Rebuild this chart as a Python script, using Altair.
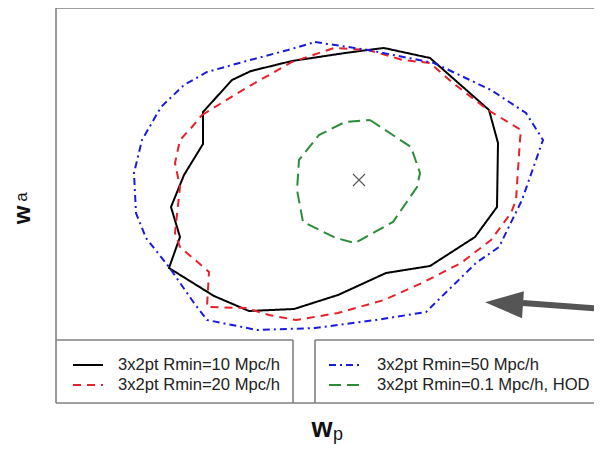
import altair as alt
import pandas as pd

# ---------------- data ----------------
labels = ["3x2pt Rmin=10 Mpc/h", "3x2pt Rmin=20 Mpc/h",
          "3x2pt Rmin=50 Mpc/h", "3x2pt Rmin=0.1 Mpc/h, HOD"]

black_wp = [0.25, 0.71, 1.30, 1.39, 1.38, 1.16, 0.71, 0.27, -0.21, -0.65, -1.10, -1.45,
            -1.90, -1.79, -1.88, -1.75, -1.56, -1.56, -1.27, -1.08, -0.67, -0.14, 0.09]
black_wa = [1.32, 1.22, 0.70, 0.37, -0.27, -0.57, -0.86, -0.93, -1.15, -1.29, -1.31, -1.16,
            -0.88, -0.57, -0.27, 0.05, 0.36, 0.68, 1.00, 1.09, 1.19, 1.27, 1.30]

red_wp = [-1.57, -1.13, -0.67, -0.25, 0.09, 0.44, 0.71, 0.94, 1.29, 1.62, 1.61, 1.57, 1.52,
          1.32, 1.02, 0.63, 0.25, -0.21, -0.63, -0.90, -1.13, -1.52, -1.50, -1.79, -1.84,
          -1.79, -1.84, -1.79, -1.67]
red_wa = [0.65, 0.92, 1.18, 1.32, 1.30, 1.20, 1.17, 0.97, 0.70, 0.50, 0.40, -0.20, -0.33,
          -0.60, -0.83, -1.03, -1.20, -1.33, -1.40, -1.35, -1.28, -1.27, -0.92, -0.67, -0.53,
          -0.07, 0.17, 0.40, 0.53]

blue_wp = [-0.44, 0.09, 0.75, 1.32, 1.67, 1.84, 1.63, 1.40, 1.17, 0.67, 0.17, -0.44, -1.02,
           -1.52, -1.65, -1.90, -2.13, -2.23, -2.25, -2.17, -1.98, -1.75, -1.52, -1.09, -0.71]
blue_wa = [1.38, 1.30, 1.17, 0.90, 0.67, 0.40, -0.20, -0.67, -0.83, -1.32, -1.40, -1.48,
           -1.50, -1.40, -1.23, -0.87, -0.58, -0.33, 0.07, 0.40, 0.73, 0.95, 1.08, 1.20, 1.30]

green_wp = [0.11, 0.52, 0.61, 0.58, 0.34, -0.04, -0.23, -0.56, -0.62, -0.60, -0.40, -0.14]
green_wa = [0.60, 0.33, 0.07, -0.07, -0.42, -0.63, -0.58, -0.42, -0.10, 0.20, 0.45, 0.58]

fiducial_wp = [0.0]
fiducial_wa = [0.0]

arrow_wp = [1.64, 2.45]
arrow_wa = [-1.23, -1.29]
arrow_head_wp = [1.45]
arrow_head_wa = [-1.235]

# ---------------- styling ----------------
colors = ["#000000", "#e8202a", "#1a1adb", "#2e8b3a"]
dashes = [[1, 0], [8, 6], [7, 4, 2, 4], [12, 6]]
FONT = "Liberation Sans"
W, H = 538, 395
x_dom = [-3.03, 2.35]
y_dom = [-2.23, 1.72]

# legend placement (box 1: first two entries, box 2: last two)
leg_x = [16, 16, 272, 272]
leg_y = [341, 361, 341, 361]
leg_off = [14, 14, 17, 17]

xs = alt.Scale(domain=x_dom, nice=False, zero=False)
ys = alt.Scale(domain=y_dom, nice=False, zero=False)


def contour(k, wp, wa):
    df = pd.DataFrame({
        "series": labels[k],
        "wp": wp + wp[:1],
        "wa": wa + wa[:1],
        "i": list(range(len(wp) + 1)),
    })
    leg = alt.Legend(title=None, orient="none", legendX=leg_x[k], legendY=leg_y[k],
                     symbolType="stroke", symbolSize=900, symbolStrokeWidth=2,
                     labelFont=FONT, labelFontSize=16.6, labelColor="#222222",
                     labelOffset=leg_off[k], labelLimit=400, padding=0)
    return alt.Chart(df).mark_line(strokeWidth=2).encode(
        x=alt.X("wp:Q", scale=xs, axis=None),
        y=alt.Y("wa:Q", scale=ys, axis=None),
        color=alt.Color("series:N",
                        scale=alt.Scale(domain=[labels[k]], range=[colors[k]]),
                        legend=leg),
        strokeDash=alt.StrokeDash("series:N",
                                  scale=alt.Scale(domain=[labels[k]], range=[dashes[k]]),
                                  legend=leg),
        order=alt.Order("i:Q"),
    )


layers = [contour(0, black_wp, black_wa), contour(1, red_wp, red_wa),
          contour(2, blue_wp, blue_wa), contour(3, green_wp, green_wa)]

cross = alt.Chart(pd.DataFrame({"wp": fiducial_wp, "wa": fiducial_wa})).mark_point(
    shape="M-1,-1L1,1M-1,1L1,-1", size=144, filled=False, stroke="#555555",
    strokeWidth=1.1, opacity=1).encode(
    x=alt.X("wp:Q", scale=xs), y=alt.Y("wa:Q", scale=ys))

arrow_df = pd.DataFrame({"wp": [arrow_wp[0]], "wa": [arrow_wa[0]],
                         "wp2": [arrow_wp[1]], "wa2": [arrow_wa[1]]})
shaft = alt.Chart(arrow_df).mark_rule(color="#555555", strokeWidth=6, clip=True).encode(
    x=alt.X("wp:Q", scale=xs), y=alt.Y("wa:Q", scale=ys), x2="wp2:Q", y2="wa2:Q")
head = alt.Chart(pd.DataFrame({"wp": arrow_head_wp, "wa": arrow_head_wa})).mark_point(
    shape="M-1,0L1,-0.71L1,0.71Z", size=1444, filled=True, color="#555555",
    opacity=1, angle=4).encode(
    x=alt.X("wp:Q", scale=xs), y=alt.Y("wa:Q", scale=ys))

# frame and legend boxes (layout, pixel units of the plot area)
frame_x = [0, 0, 0, 0, 237, 259, 259]
frame_x2 = [0, W, W, 237, 237, W, 259]
frame_y = [0, 0, H, 332, 332, 332, 332]
frame_y2 = [H, 0, H, 332, H, 332, H]
frame = alt.Chart(pd.DataFrame({"x": frame_x, "x2": frame_x2, "y": frame_y, "y2": frame_y2})
                  ).mark_rule(color="#808080", strokeWidth=1.6).encode(
    x=alt.X("x:Q", scale=None), x2="x2:Q", y=alt.Y("y:Q", scale=None), y2="y2:Q")

# axis titles w_p (horizontal) and w_a (rotated)
xt_big = alt.Chart(pd.DataFrame({"t": ["w"], "x": [266], "y": [429]})).mark_text(
    font=FONT, fontSize=27, fontWeight="bold", color="#111111",
    align="center", baseline="alphabetic").encode(
    x=alt.X("x:Q", scale=None), y=alt.Y("y:Q", scale=None), text="t:N")
xt_small = alt.Chart(pd.DataFrame({"t": ["p"], "x": [282], "y": [432]})).mark_text(
    font=FONT, fontSize=18, color="#111111",
    align="center", baseline="alphabetic").encode(
    x=alt.X("x:Q", scale=None), y=alt.Y("y:Q", scale=None), text="t:N")
yt_big = alt.Chart(pd.DataFrame({"t": ["w"], "x": [-26], "y": [207]})).mark_text(
    font=FONT, fontSize=24, fontWeight="bold", color="#111111", angle=270,
    align="center", baseline="alphabetic").encode(
    x=alt.X("x:Q", scale=None), y=alt.Y("y:Q", scale=None), text="t:N")
yt_small = alt.Chart(pd.DataFrame({"t": ["a"], "x": [-29], "y": [189]})).mark_text(
    font=FONT, fontSize=17, color="#111111", angle=270,
    align="center", baseline="alphabetic").encode(
    x=alt.X("x:Q", scale=None), y=alt.Y("y:Q", scale=None), text="t:N")

chart = alt.layer(frame, *layers, cross, shaft, head,
                  xt_big, xt_small, yt_big, yt_small).resolve_scale(
    color="independent", strokeDash="independent"
).properties(
    width=W, height=H,
    autosize=alt.AutoSizeParams(type="none"),
    padding={"left": 48, "top": 0, "right": 0, "bottom": 48},
    background="white",
).configure_view(strokeWidth=0)

chart.save("out.html", embed_options={"renderer": "svg", "actions": False})
